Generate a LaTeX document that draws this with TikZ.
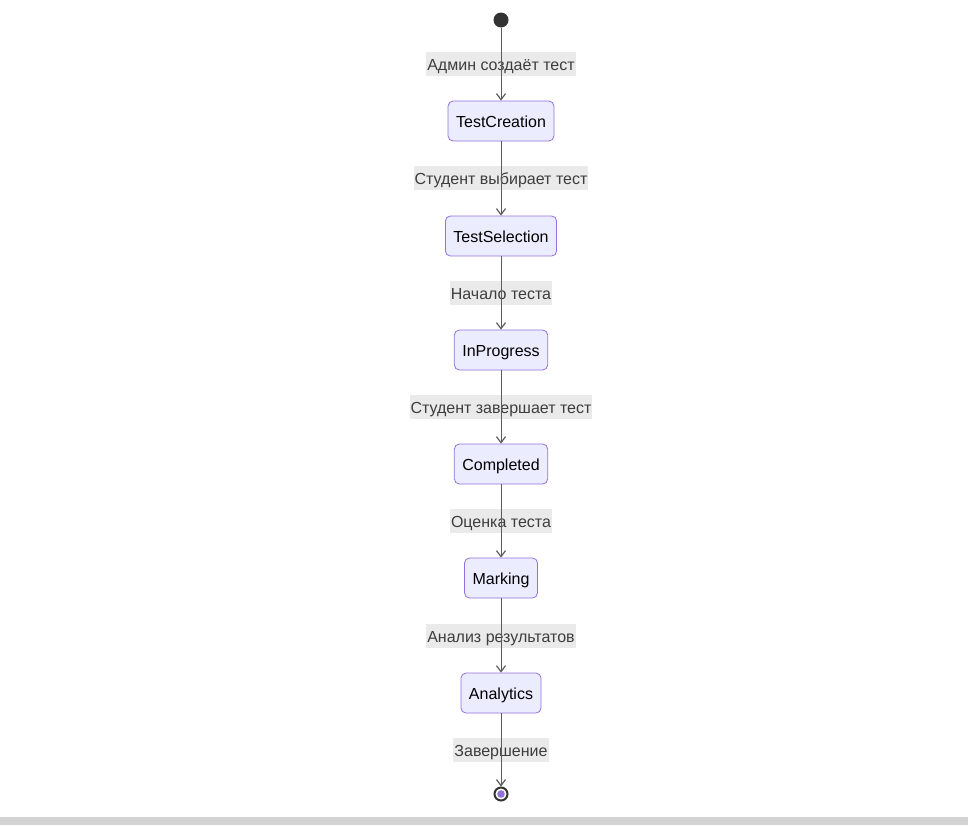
\documentclass[tikz,border=0pt]{standalone}
\usepackage{fontspec}
\setmainfont{Liberation Sans}
\usetikzlibrary{arrows.meta}
\definecolor{statefill}{HTML}{ECECFF}
\definecolor{stateline}{HTML}{9370DB}
\definecolor{edgeline}{HTML}{333333}
\definecolor{labelfill}{HTML}{EAEAEA}
\definecolor{bartone}{HTML}{D3D3D3}
\tikzset{
  statebox/.style={draw=stateline, fill=statefill, rounded corners=5pt, line width=0.8pt,
    minimum height=40pt, inner xsep=8pt, inner ysep=0pt, text=black,
    text height=15.5pt, text depth=2pt,
    font=\fontsize{16}{19}\selectfont},
  edgelabel/.style={fill=labelfill, inner xsep=1pt, inner ysep=0pt, minimum height=24pt,
    text height=15.5pt, text depth=2pt,
    text=edgeline!95, font=\fontsize{16}{19}\selectfont},
  flow/.style={draw=edgeline!80, line width=1pt,
    -{Straight Barb[length=6pt,width=9pt,line width=1.2pt]}},
}
\begin{document}
\begin{tikzpicture}[x=1pt,y=-1pt]
\useasboundingbox (0,0) rectangle (968,825);
\fill[bartone] (0,817) rectangle (968,825);

% states
\node[circle, fill=edgeline, minimum size=15pt, inner sep=0pt] (start) at (501,20) {};
\node[statebox] (creation)  at (501,121) {TestCreation};
\node[statebox] (selection) at (501,236) {TestSelection};
\node[statebox] (progress)  at (501,350) {InProgress};
\node[statebox] (completed) at (501,464) {Completed};
\node[statebox] (marking)   at (501,578) {Marking};
\node[statebox] (analytics) at (501,693) {Analytics};
\node[circle, draw=edgeline, line width=2pt, fill=white, minimum size=13pt, inner sep=0pt] (stop) at (501,794) {};
\fill[stateline] (stop.center) circle (3.8pt);

% transition labels
\node[edgelabel] (l1) at (501,64)  {Админ создаёт тест};
\node[edgelabel] (l2) at (501,178) {Студент выбирает тест};
\node[edgelabel] (l3) at (501,293) {Начало теста};
\node[edgelabel] (l4) at (501,407) {Студент завершает тест};
\node[edgelabel] (l5) at (501,521) {Оценка теста};
\node[edgelabel] (l6) at (501,636) {Анализ результатов};
\node[edgelabel] (l7) at (501,750) {Завершение};

% transitions
\draw[flow] (start) -- (creation);
\draw[flow] (creation) -- (selection);
\draw[flow] (selection) -- (progress);
\draw[flow] (progress) -- (completed);
\draw[flow] (completed) -- (marking);
\draw[flow] (marking) -- (analytics);
\draw[flow] (analytics) -- (stop);
\end{tikzpicture}
\end{document}
